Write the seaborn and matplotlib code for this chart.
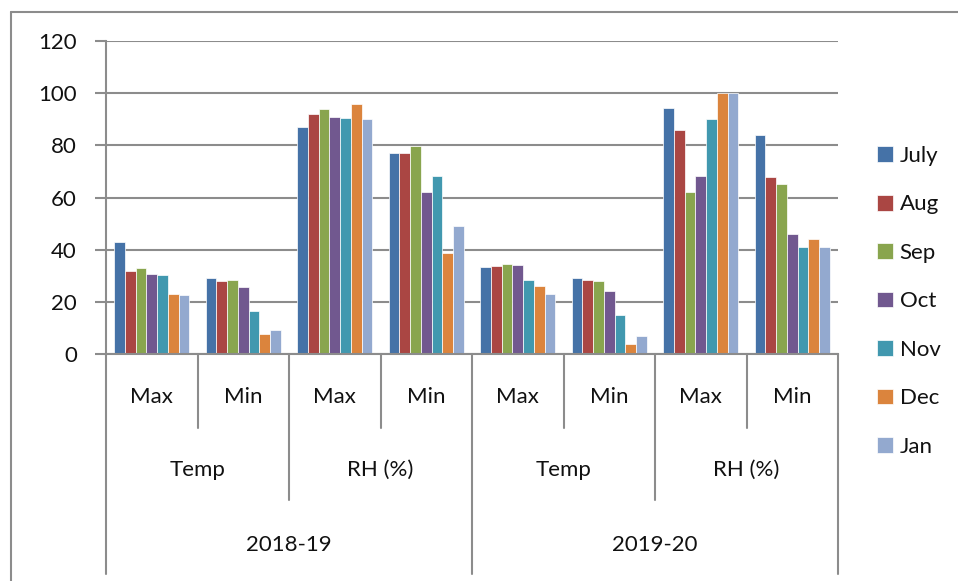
import matplotlib
matplotlib.use("Agg")
import matplotlib.pyplot as plt
import seaborn as sns
import pandas as pd
from matplotlib.lines import Line2D
from matplotlib.transforms import blended_transform_factory

# ---- data ----
years = ["2018-19", "2019-20"]
params = ["Temp", "RH (%)"]
levels = ["Max", "Min"]
months = ["July", "Aug", "Sep", "Oct", "Nov", "Dec", "Jan"]

# values per month across the 8 groups:
# 2018-19 Temp Max, Temp Min, RH Max, RH Min, 2019-20 Temp Max, Temp Min, RH Max, RH Min
july = [43.0, 29.0, 87.0, 77.0, 33.5, 29.0, 94.5, 84.0]
aug = [32.0, 28.0, 92.0, 77.0, 33.8, 28.5, 86.0, 68.0]
sep = [33.0, 28.3, 93.8, 79.8, 34.5, 28.0, 62.3, 65.0]
oct_ = [30.8, 25.5, 91.0, 62.2, 34.0, 24.2, 68.3, 46.0]
nov = [30.2, 16.3, 90.5, 68.3, 28.5, 15.0, 90.0, 41.2]
dec = [23.0, 7.8, 95.8, 38.8, 26.0, 4.0, 100.0, 44.0]
jan = [22.5, 9.2, 90.0, 49.0, 23.0, 6.8, 100.0, 41.0]
series = [july, aug, sep, oct_, nov, dec, jan]

yticks = [0, 20, 40, 60, 80, 100, 120]
colors = ["#4572A7", "#AA4643", "#89A54E", "#71588F", "#4198AF", "#DB843D", "#93A9CF"]

groups = [f"{y}|{p}|{l}" for y in years for p in params for l in levels]
rows = []
for m, vals in zip(months, series):
    for g, v in zip(groups, vals):
        rows.append({"group": g, "month": m, "value": v})
df = pd.DataFrame(rows)

# ---- figure ----
W, H = 958, 581
FS = 16
sns.set_style("white")
plt.rcParams["font.family"] = ["Lato", "DejaVu Sans"]
plt.rcParams["text.color"] = "#111111"
fig = plt.figure(figsize=(W / 100, H / 100), dpi=100)
ax = fig.add_axes([106 / W, 1 - 354 / H, (838 - 106) / W, (354 - 41) / H])

sns.barplot(data=df, x="group", y="value", hue="month", order=groups,
            hue_order=months, palette=colors, width=0.82, ax=ax,
            edgecolor="white", linewidth=0.5, saturation=1, legend=True)

gray = "#8C8C8C"
ax.set_xlim(-0.5, len(groups) - 0.5)
ax.set_ylim(0, 120)
ax.set_yticks(yticks)
ax.set_yticklabels([str(t) for t in yticks], fontsize=FS, color="#111111")
ax.yaxis.grid(True, color=gray, linewidth=1.5)
ax.set_axisbelow(True)
ax.set_xticks([])
ax.set_xlabel("")
ax.set_ylabel("")
for s in ["top", "right"]:
    ax.spines[s].set_visible(False)
for s in ["left", "bottom"]:
    ax.spines[s].set_color(gray)
    ax.spines[s].set_linewidth(1.5)
ax.tick_params(axis="y", length=8, width=1.5, color=gray, pad=13, left=True)

# legend
h, l = ax.get_legend_handles_labels()
ax.legend(h, l, loc="upper left", bbox_to_anchor=(877 / W, 1 - 146 / H),
          bbox_transform=fig.transFigure, frameon=False, fontsize=FS,
          handlelength=0.72, handleheight=0.72, handletextpad=0.3,
          labelspacing=1.28, borderpad=0, borderaxespad=0)

# hierarchical category axis
tr = blended_transform_factory(ax.transData, fig.transFigure)
def fy(py):
    return 1 - py / H

n = len(groups)
for k in range(n + 1):
    x = k - 0.5
    if k in (0, n, 4):
        bottom = 574
    elif k in (2, 6):
        bottom = 500
    else:
        bottom = 428
    ax.add_line(Line2D([x, x], [fy(354), fy(bottom)], transform=tr,
                       color=gray, lw=1.5, clip_on=False))

for i, g in enumerate(groups):
    ax.text(i, fy(397), g.split("|")[2], transform=tr, ha="center",
            va="center", fontsize=FS)
for j in range(4):
    ax.text(2 * j + 0.5, fy(470), params[j % 2], transform=tr, ha="center",
            va="center", fontsize=FS)
for j in range(2):
    ax.text(4 * j + 1.5, fy(545), years[j], transform=tr, ha="center",
            va="center", fontsize=FS)

# outer chart frame (left and top edges visible)
fig.add_artist(Line2D([11 / W, 11 / W], [0, fy(12)], transform=fig.transFigure,
                      color=gray, lw=1.5))
fig.add_artist(Line2D([11 / W, 1], [fy(12), fy(12)], transform=fig.transFigure,
                      color=gray, lw=1.5))

fig.savefig("out.png", dpi=100)
